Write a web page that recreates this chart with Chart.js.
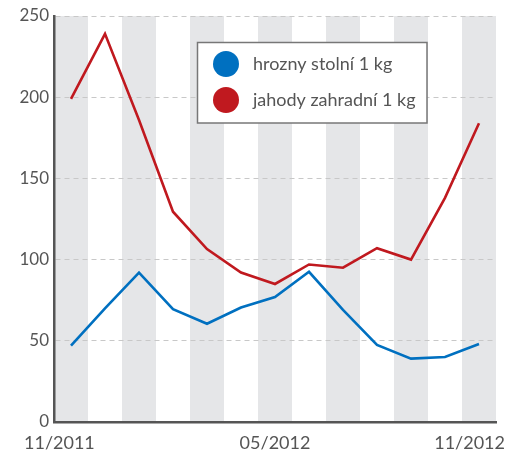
<!DOCTYPE html>
<html>
<head>
<meta charset="utf-8">
<script src="https://cdn.jsdelivr.net/npm/chart.js@4/dist/chart.umd.min.js"></script>
<style>
  html, body { margin: 0; padding: 0; background: #fff; }
  #wrap { width: 514px; height: 465px; }
</style>
</head>
<body>
<div id="wrap"><canvas id="chart"></canvas></div>
<script>
const months = ['11/2011', '12/2011', '01/2012', '02/2012', '03/2012', '04/2012', '05/2012',
  '06/2012', '07/2012', '08/2012', '09/2012', '10/2012', '11/2012'];
const xTickLabels = ['11/2011', '05/2012', '11/2012'];
const grapes = [47, 70, 92, 69.5, 60.5, 70.5, 77, 92.5, 69, 47.5, 39, 40, 48];
const strawberries = [199, 239, 186, 129.5, 106.5, 92, 85, 97, 95, 107, 100, 138, 184];
const seriesNames = ['hrozny stolní 1 kg', 'jahody zahradní 1 kg'];

const BLUE = '#0070c0';
const RED = '#c0191f';
const TEXT = '#555555';
const FONT = 'Lato, "DejaVu Sans", sans-serif';

// alternating grey month bands behind the grid
const bands = {
  id: 'bands',
  beforeDraw(chart) {
    const { ctx, chartArea, scales } = chart;
    const x = scales.x;
    const w = (chartArea.right - chartArea.left) / months.length;
    ctx.save();
    ctx.fillStyle = '#e5e6e8';
    months.forEach((m, i) => {
      if (i % 2) return;
      const cx = x.getPixelForValue(i);
      ctx.fillRect(cx - w / 2, chartArea.top, w, chartArea.bottom - chartArea.top);
    });
    ctx.restore();
  }
};

// x labels and the boxed legend
const extras = {
  id: 'extras',
  afterDraw(chart) {
    const { ctx, chartArea, scales } = chart;
    const x = scales.x;
    ctx.save();
    ctx.font = '18px ' + FONT;
    ctx.fillStyle = TEXT;
    ctx.textBaseline = 'middle';
    const ly = chartArea.bottom + 21;
    xTickLabels.forEach((lab, k) => {
      const i = months.indexOf(lab);
      let px = x.getPixelForValue(i);
      if (k === 0) { ctx.textAlign = 'left'; px = chartArea.left - 30; }
      else if (k === xTickLabels.length - 1) { ctx.textAlign = 'right'; px = chartArea.right + 9; }
      else ctx.textAlign = 'center';
      ctx.fillText(lab, px, ly);
    });

    // legend
    const bx = 197.5, by = 42.5, bw = 229.5, bh = 80.5;
    ctx.fillStyle = '#fff';
    ctx.fillRect(bx, by, bw, bh);
    ctx.strokeStyle = '#777';
    ctx.lineWidth = 1.5;
    ctx.strokeRect(bx, by, bw, bh);
    const colors = [BLUE, RED];
    ctx.font = '18px ' + FONT;
    ctx.textAlign = 'left';
    seriesNames.forEach((name, k) => {
      const cy = 64 + k * 36;
      ctx.beginPath();
      ctx.arc(226, cy, 13, 0, Math.PI * 2);
      ctx.fillStyle = colors[k];
      ctx.fill();
      ctx.fillStyle = TEXT;
      ctx.fillText(name, 253, cy);
    });
    ctx.restore();
  }
};

new Chart(document.getElementById('chart'), {
  type: 'line',
  data: {
    labels: months,
    datasets: [
      { label: seriesNames[0], data: grapes, borderColor: BLUE, backgroundColor: BLUE,
        borderWidth: 2.6, pointRadius: 0, tension: 0 },
      { label: seriesNames[1], data: strawberries, borderColor: RED, backgroundColor: RED,
        borderWidth: 2.6, pointRadius: 0, tension: 0 }
    ]
  },
  options: {
    responsive: true,
    maintainAspectRatio: false,
    animation: false,
    layout: { padding: { left: 0, right: 18, top: 16, bottom: 35 } },
    plugins: { legend: { display: false }, tooltip: { enabled: false } },
    scales: {
      x: {
        offset: true,
        grid: { display: false },
        border: { display: true, color: '#555', width: 2.5 },
        ticks: { display: false }
      },
      y: {
        min: 0,
        max: 250,
        afterFit(scale) { scale.width = 54; },
        ticks: { stepSize: 50, padding: 5, color: TEXT, font: { family: FONT, size: 17 } },
        grid: { color: '#c8c8c8', lineWidth: 1, drawTicks: false },
        border: { display: true, color: '#555', width: 2.5, dash: [5, 4] }
      }
    }
  },
  plugins: [bands, extras]
});
</script>
</body>
</html>
